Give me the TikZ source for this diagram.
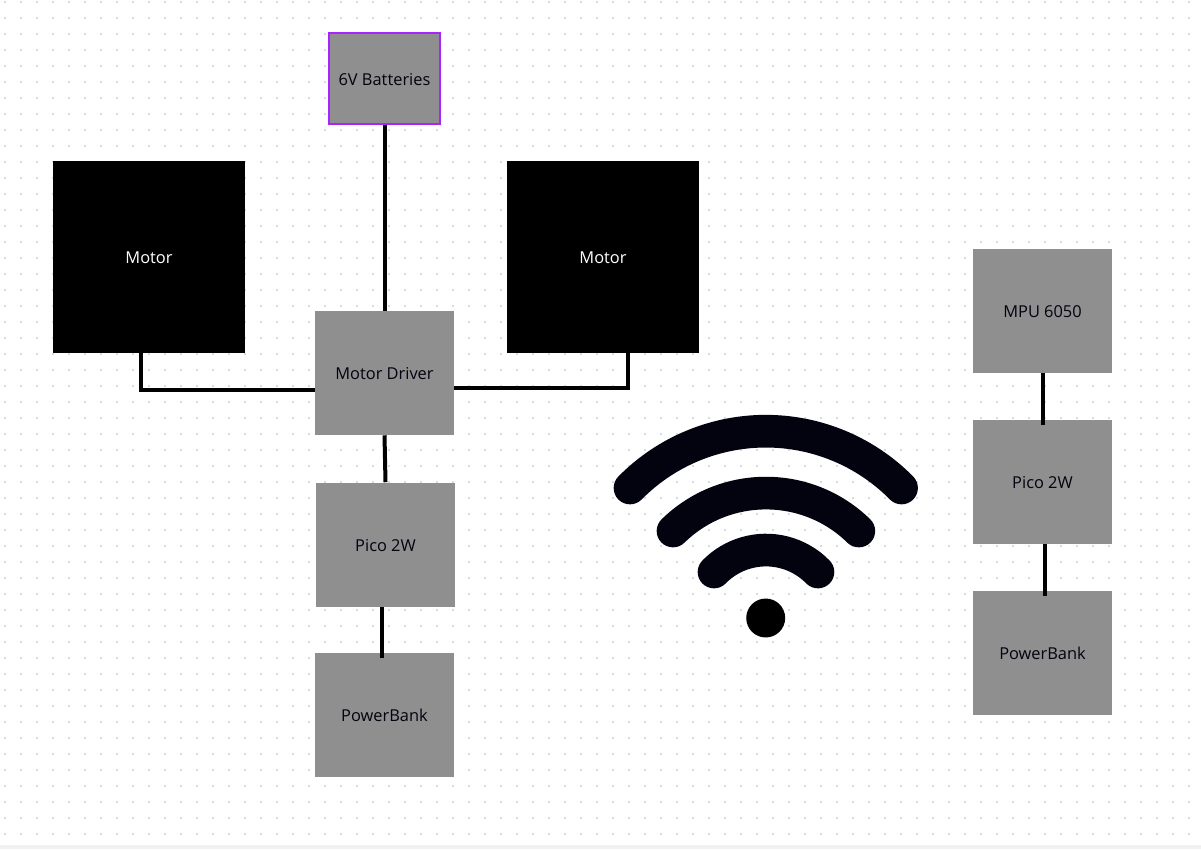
\documentclass[tikz,border=0pt]{standalone}
\usepackage{fontspec}
\setmainfont{Open Sans}
\usetikzlibrary{positioning}
\definecolor{grisbox}{HTML}{8F8F8F}
\definecolor{moradoborde}{HTML}{AA22FF}
\definecolor{puntos}{HTML}{D9D9E0}
\definecolor{pie}{HTML}{F1F1F4}
\definecolor{tinta}{HTML}{02030F}

\begin{document}
\begin{tikzpicture}[
    x=0.75pt, y=-0.75pt,
    caja/.style={fill=grisbox, minimum width=104.25pt, minimum height=93pt, inner sep=0pt,
      align=center, font=\fontsize{12.3}{14}\selectfont, text=tinta, text height=10pt, text depth=0pt},
    bateria/.style={caja, draw=moradoborde, line width=1.5pt, minimum width=83.25pt, minimum height=67.5pt},
    motorbox/.style={caja, fill=black, minimum width=144pt, minimum height=144pt, text=white},
    cable/.style={draw=black, line width=3pt},
    ondas/.style={draw=tinta, line width=24.5pt, line cap=round}
  ]
    % fondo
    \fill[white] (0,0) rectangle (1201,849);
    \foreach \i in {0,...,74}
      \foreach \j in {0,...,52}
        \fill[puntos] (5+16*\i-1,2+16*\j-1) rectangle +(2,2);
    \fill[pie] (0,845) rectangle (1201,849);
    \useasboundingbox (0,0) rectangle (1201,849);

    \node[bateria] (bateria) at (384.5,78.5) {6V Batteries};
    \node[motorbox] (motorizq) at (149,257) {Motor};
    \node[motorbox] (motorder) at (603,257) {Motor};
    \node[caja] (driver) at (384.5,373) {Motor Driver};
    \node[caja] (picoa) at (385.5,544.5) {Pico 2W};
    \node[caja] (powera) at (384.5,715) {PowerBank};
    \node[caja] (mpu) at (1042.5,311) {MPU 6050};
    \node[caja] (picob) at (1042.5,482) {Pico 2W};
    \node[caja] (powerb) at (1042.5,653) {PowerBank};

    \draw[cable] (bateria) -- (driver);
    \draw[cable] ([xshift=-6pt]motorizq.south) |- ([yshift=-12.4pt]driver.west);
    \draw[cable] ([xshift=18.4pt]motorder.south) |- ([yshift=-10.9pt]driver.east);
    \draw[cable] (driver.south) -- (picoa.north);
    \draw[cable] (picoa.south -| 382,0) -- ([yshift=-3.7pt]powera.north -| 382,0);
    \draw[cable] (mpu.south) -- ([yshift=-3.7pt]picob.north);
    \draw[cable] (picob.south -| 1044.5,0) -- ([yshift=-3.7pt]powerb.north -| 1044.5,0);

    % wifi
    \draw[ondas] (630,488) arc[start angle=-135.4, end angle=-44.6, radius=190.7];
    \draw[ondas] (673,531) arc[start angle=-134.4, end angle=-45.6, radius=132.8];
    \draw[ondas] (714,572) arc[start angle=-135.8, end angle=-44.2, radius=72.5];
    \fill[black] (765.7,618) circle[radius=14.6pt];
  \end{tikzpicture}
\end{document}
